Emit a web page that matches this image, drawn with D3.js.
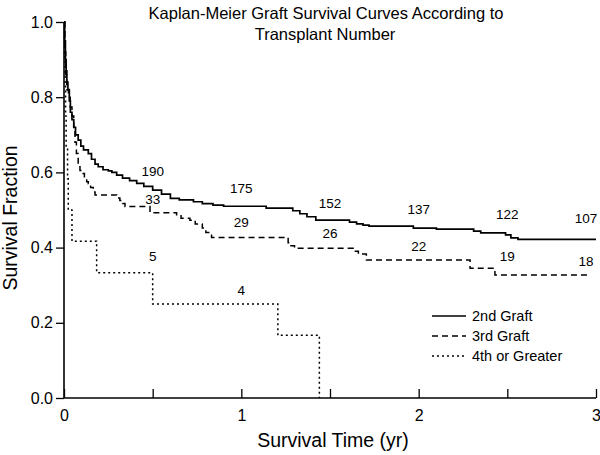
<!DOCTYPE html>
<html><head><meta charset="utf-8">
<script src="https://cdn.jsdelivr.net/npm/d3@7"></script>
<style>body{margin:0;background:#fff}svg{display:block}text{font-family:"Liberation Sans",Arial,sans-serif;fill:#000}</style>
</head><body><svg id="c" width="600" height="455"></svg>
<script>
const titleLines = ["Kaplan-Meier Graft Survival Curves According to", "Transplant Number"];
const xLabel = "Survival Time (yr)";
const yLabel = "Survival Fraction";
const xTicks = [0, 1, 2, 3];
const xMinorTicks = [0.5, 1.5, 2.5];
const yTicks = [0, 0.2, 0.4, 0.6, 0.8, 1.0];
const seriesNames = ["2nd Graft", "3rd Graft", "4th or Greater"];

const graft2Time = [0,0.004,0.008,0.012,0.016,0.022,0.03,0.036,0.045,0.055,0.065,0.08,0.095,0.11,0.137,0.155,0.175,0.193,0.22,0.25,0.27,0.297,0.33,0.37,0.41,0.45,0.5,0.55,0.6,0.65,0.73,0.78,0.84,0.9,1.14,1.29,1.33,1.37,1.42,1.61,1.65,1.686,1.72,1.97,2.1,2.31,2.35,2.49,2.52,2.56,3.0];
const graft2Surv = [1.0,0.95,0.90,0.87,0.84,0.82,0.79,0.76,0.74,0.72,0.70,0.686,0.67,0.66,0.65,0.635,0.622,0.615,0.607,0.604,0.60,0.593,0.585,0.578,0.571,0.563,0.553,0.542,0.531,0.527,0.522,0.517,0.513,0.510,0.505,0.498,0.490,0.482,0.473,0.468,0.463,0.460,0.457,0.452,0.449,0.444,0.439,0.434,0.426,0.422,0.422];

const graft3Time = [0,0.005,0.01,0.015,0.025,0.035,0.045,0.055,0.062,0.07,0.08,0.09,0.1,0.115,0.128,0.137,0.15,0.165,0.175,0.297,0.315,0.33,0.344,0.485,0.635,0.66,0.71,0.74,0.78,0.80,0.832,1.264,1.28,1.30,1.63,1.66,1.705,2.29,2.43,2.97];
const graft3Surv = [1.0,0.92,0.86,0.82,0.80,0.774,0.75,0.72,0.68,0.65,0.62,0.605,0.597,0.585,0.575,0.57,0.56,0.548,0.54,0.532,0.525,0.517,0.509,0.493,0.485,0.478,0.473,0.463,0.452,0.44,0.427,0.413,0.405,0.398,0.39,0.383,0.367,0.345,0.327,0.327];

const graft4Time = [0,0.003,0.006,0.009,0.012,0.02,0.024,0.045,0.184,0.5,1.206,1.44];
const graft4Surv = [1.0,0.917,0.833,0.75,0.667,0.583,0.5,0.417,0.333,0.25,0.167,0.0];

const atRiskTime2 = [0.5, 1.0, 1.5, 2.0, 2.5, 3.0];
const atRisk2 = ["190", "175", "152", "137", "122", "107"];
const atRiskY2 = [0.59, 0.545, 0.505, 0.49, 0.475, 0.465];
const atRiskTime3 = [0.5, 1.0, 1.5, 2.0, 2.5, 3.0];
const atRisk3 = ["33", "29", "26", "22", "19", "18"];
const atRiskY3 = [0.515, 0.455, 0.425, 0.39, 0.365, 0.35];
const atRiskTime4 = [0.5, 1.0];
const atRisk4 = ["5", "4"];
const atRiskY4 = [0.365, 0.275];

const svg = d3.select("#c");
const x = d3.scaleLinear().domain([0, 3]).range([64, 596]);
const y = d3.scaleLinear().domain([0, 1]).range([398, 22]);

// title
svg.append("text").attr("x", 326).attr("y", 19).attr("text-anchor", "middle").style("font-size", "16.5px").text(titleLines[0]);
svg.append("text").attr("x", 325).attr("y", 40).attr("text-anchor", "middle").style("font-size", "16.5px").text(titleLines[1]);

// axes
const xAxis = d3.axisBottom(x).tickValues(xTicks.concat(xMinorTicks)).tickSize(-9).tickPadding(12)
  .tickFormat(d => xTicks.includes(d) ? d3.format("d")(d) : "");
const gx = svg.append("g").attr("transform", "translate(0,398)").call(xAxis);
const yAxis = d3.axisLeft(y).tickValues(yTicks).tickSize(8).tickPadding(3).tickFormat(d3.format(".1f"));
const gy = svg.append("g").attr("transform", "translate(64,0)").call(yAxis);
[gx, gy].forEach(g => {
  g.select(".domain").attr("stroke", "#000").attr("stroke-width", 1.6);
  g.selectAll(".tick line").attr("stroke", "#000").attr("stroke-width", 1.3);
  g.selectAll(".tick text").style("font-size", "16px").style("font-family", "Liberation Sans, Arial, sans-serif").attr("fill", "#000");
});
gy.select(".domain").attr("d", "M0," + y(1) + "V" + y(0));
gx.select(".domain").attr("d", "M" + x(0) + ",0H" + x(3));

svg.append("text").attr("x", 333).attr("y", 447).attr("text-anchor", "middle").style("font-size", "19.5px").text(xLabel);
svg.append("text").attr("transform", "translate(17,218) rotate(-90)").attr("text-anchor", "middle").style("font-size", "19.5px").text(yLabel);

const line = d3.line().x(d => x(d[0])).y(d => y(d[1])).curve(d3.curveStepAfter);
const series = [
  {t: graft2Time, s: graft2Surv, dash: null, w: 1.7},
  {t: graft3Time, s: graft3Surv, dash: "6,4", w: 1.5},
  {t: graft4Time, s: graft4Surv, dash: "2,3", w: 1.5}
];
series.forEach(se => {
  const pts = se.t.map((t, i) => [t, se.s[i]]);
  svg.append("path").datum(pts).attr("d", line).attr("fill", "none").attr("stroke", "#000")
    .attr("stroke-width", se.w).attr("stroke-dasharray", se.dash);
});

function labels(ts, ls, ys) {
  ts.forEach((t, i) => {
    svg.append("text").attr("x", x(t) + (t === 3 ? -10 : 0)).attr("y", y(ys[i])).attr("text-anchor", "middle")
      .style("font-size", "13.5px").text(ls[i]);
  });
}
labels(atRiskTime2, atRisk2, atRiskY2);
labels(atRiskTime3, atRisk3, atRiskY3);
labels(atRiskTime4, atRisk4, atRiskY4);

// legend
const legY = [316, 336, 356];
series.forEach((se, i) => {
  svg.append("line").attr("x1", 432).attr("x2", 466).attr("y1", legY[i]).attr("y2", legY[i])
    .attr("stroke", "#000").attr("stroke-width", se.w).attr("stroke-dasharray", se.dash);
  svg.append("text").attr("x", 472).attr("y", legY[i] + 5).style("font-size", "14.5px").text(seriesNames[i]);
});
</script></body></html>
